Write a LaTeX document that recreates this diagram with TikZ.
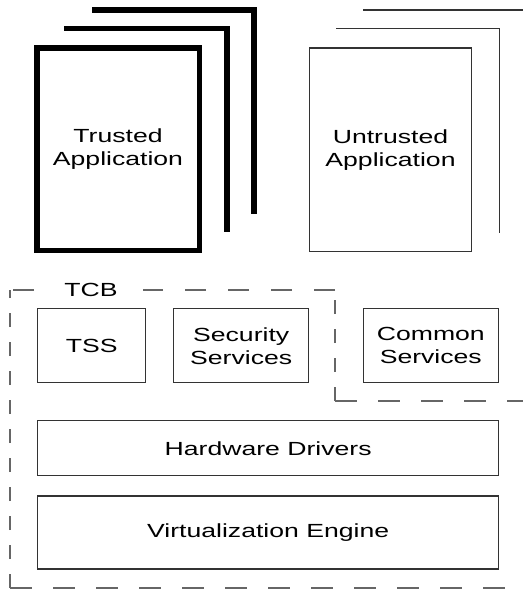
\documentclass[tikz,border=0pt]{standalone}
\usepackage{fontspec}
\setmainfont[FakeStretch=1.4]{Liberation Sans}
\usetikzlibrary{positioning}

\begin{document}
\begin{tikzpicture}[x=1pt,y=-1pt,font=\fontsize{19}{23}\selectfont]
      \tikzset{box/.style={draw=black!80,line width=1.1pt,align=center,inner sep=0pt},
               sheet/.style={line width=5.5pt},
               tcbh/.style={draw=black!60,line width=1.1pt,dash pattern=on 21.5pt off 21.5pt},
               tcbv/.style={draw=black!60,line width=1.1pt,dash pattern=on 14pt off 15pt}}
      \useasboundingbox (0,0) rectangle (523,589);
      % applications
      \draw[sheet] (92,10) -| (254,214);
      \draw[sheet] (64,28.5) -| (227,232);
      \node[box,draw=black,line width=5.5pt,minimum width=162.5pt,minimum height=202.5pt] (trusted) at (118,149) {Trusted\\Application};
      \draw[draw=black!80,line width=1.1pt] (363,10) -- (523,10);
      \draw[draw=black!80,line width=1.1pt] (336,28.5) -| (499.5,233);
      \node[box,minimum width=162pt,minimum height=203.5pt] (untrusted) at (390.5,149.75) {Untrusted\\Application};
      % TCB outline
      \draw[tcbh] (335,290) -- (10,290);
      \draw[tcbv] (10,588) -- (10,290);
      \draw[tcbh] (10,588) -- (523,588);
      \draw[tcbv] (335,401) -- (335,290);
      \draw[tcbh] (335,401) -- (523,401);
      \node[fill=white,inner xsep=25pt,inner ysep=2pt] (tcb) at (91,289.5) {TCB};
      % services
      \node[box,minimum width=107.7pt,minimum height=74pt] (tss) at (91.7,345.8) {TSS};
      \node[box,minimum width=135pt,minimum height=74pt] (security) at (241.2,345.8) {Security\\Services};
      \node[box,minimum width=135pt,minimum height=74pt] (common) at (430.8,345.8) {Common\\Services};
      \node[box,minimum width=461pt,minimum height=55pt] (drivers) at (268.2,448.3) {Hardware Drivers};
      \node[box,minimum width=461pt,minimum height=73pt] (engine) at (268.2,532.5) {Virtualization Engine};
\end{tikzpicture}
\end{document}
